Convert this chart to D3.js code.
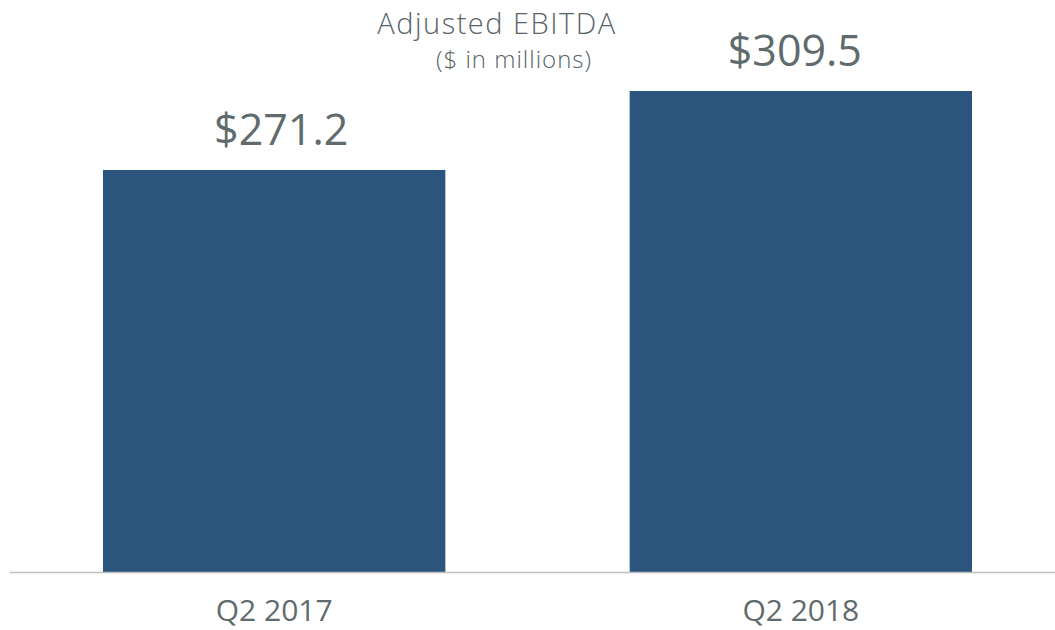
<!DOCTYPE html>
<html>
<head>
<meta charset="utf-8">
<script src="https://cdnjs.cloudflare.com/ajax/libs/d3/7.8.5/d3.min.js"></script>
<style>
	body { margin: 0; background: #fff; }
	svg { display: block; font-family: "Open Sans", "Noto Sans", sans-serif; }
</style>
</head>
<body>
<main></main>
<script>
// DATA
const categories = ["Q2 2017", "Q2 2018"];
const values = [271.2, 309.5];
const valueLabels = ["$271.2", "$309.5"];
const title = "Adjusted EBITDA";
const subtitle = "($ in millions)";

// dimension
const w = 1055;
const h = 630;
const baseY = 572;
const textColor = "#5f6b6c";
const barColor = "#2c557e";

const svgNode = d3.select("main").append("svg").attr("width", w).attr("height", h);

// scales
const xScale = d3.scaleBand()
	.domain(categories)
	.range([103, 972])
	.paddingInner(0.35)
	.paddingOuter(0);
const yScale = d3.scaleLinear()
	.domain([76.3, 309.5])
	.range([baseY, 91]);

// bars
svgNode.selectAll("rect.bar").data(values).enter().append("rect")
	.attr("class", "bar")
	.attr("x", (d, i) => xScale(categories[i]))
	.attr("y", d => yScale(d))
	.attr("width", xScale.bandwidth())
	.attr("height", d => baseY - yScale(d))
	.attr("fill", barColor);

// value labels
svgNode.selectAll("text.val").data(values).enter().append("text")
	.attr("class", "val")
	.attr("x", (d, i) => xScale(categories[i]) + xScale.bandwidth() / 2 + (i === 0 ? 7 : -6))
	.attr("y", d => yScale(d) - 25)
	.attr("text-anchor", "middle")
	.attr("font-size", 43)
	.attr("fill", textColor)
	.text((d, i) => valueLabels[i]);

// baseline
svgNode.append("line")
	.attr("x1", 10).attr("x2", w)
	.attr("y1", baseY + 0.5).attr("y2", baseY + 0.5)
	.attr("stroke", "#bfbfbf")
	.attr("stroke-width", 1.5);

// x axis labels
const xAxis = d3.axisBottom(xScale).tickSize(0).tickPadding(0);
const gx = svgNode.append("g").attr("transform", "translate(0," + baseY + ")").call(xAxis);
gx.select(".domain").remove();
gx.selectAll("text")
	.attr("y", 49)
	.attr("dy", 0)
	.attr("font-size", 30)
	.attr("font-family", "'Open Sans', sans-serif")
	.attr("fill", textColor);

// title
svgNode.append("text")
	.attr("x", 497).attr("y", 34)
	.attr("text-anchor", "middle")
	.attr("font-size", 29)
	.attr("font-weight", 300)
	.attr("letter-spacing", 1.5)
	.attr("fill", "#58646a")
	.text(title);
svgNode.append("text")
	.attr("x", 514).attr("y", 68)
	.attr("text-anchor", "middle")
	.attr("font-size", 24)
	.attr("font-weight", 300)
	.attr("letter-spacing", 1)
	.attr("fill", "#58646a")
	.text(subtitle);
</script>
</body>
</html>
